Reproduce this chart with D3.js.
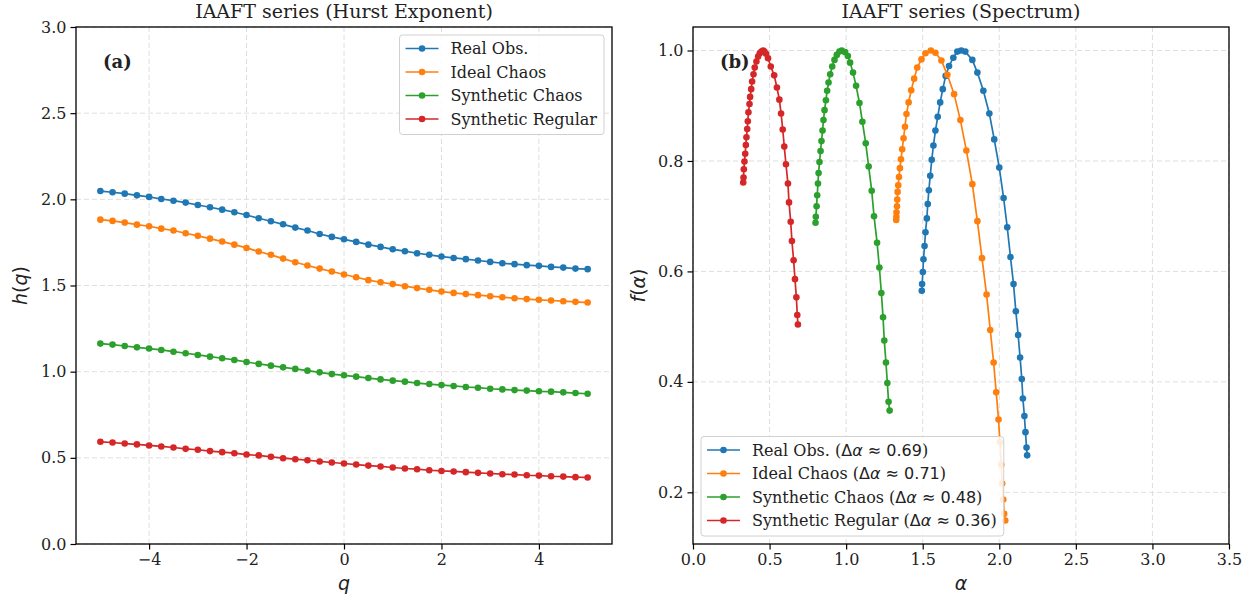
<!DOCTYPE html>
<html>
<head>
<meta charset="utf-8">
<script src="https://cdn.jsdelivr.net/npm/d3@7"></script>
<style>
  body { margin: 0; background: #fff; }
  svg text { font-family: "DejaVu Serif", serif; fill: #222; }
</style>
</head>
<body>
<svg id="chart" width="1253" height="597"></svg>
<script>
/* ---------- data ---------- */
const SERIES   = ["Real Obs.", "Ideal Chaos", "Synthetic Chaos", "Synthetic Regular"];
const COLORS   = ["#1f77b4", "#ff7f0e", "#2ca02c", "#d62728"];
const DELTA_A  = ["0.69", "0.71", "0.48", "0.36"];

const qVals = [-5, -4.75, -4.5, -4.25, -4, -3.75, -3.5, -3.25, -3, -2.75, -2.5, -2.25, -2, -1.75, -1.5, -1.25, -1, -0.75, -0.5, -0.25,
  0, 0.25, 0.5, 0.75, 1, 1.25, 1.5, 1.75, 2, 2.25, 2.5, 2.75, 3, 3.25, 3.5, 3.75, 4, 4.25, 4.5, 4.75, 5];

// panel (a): h(q)
const hReal = [2.048, 2.041, 2.033, 2.023, 2.014, 2.002, 1.992, 1.981, 1.967, 1.954, 1.940, 1.925, 1.909, 1.890, 1.873, 1.855, 1.836, 1.819, 1.799, 1.782,
  1.768, 1.753, 1.737, 1.724, 1.710, 1.699, 1.687, 1.678, 1.668, 1.660, 1.653, 1.645, 1.637, 1.629, 1.624, 1.618, 1.614, 1.608, 1.604, 1.598, 1.595];
const hIdeal = [1.882, 1.875, 1.865, 1.853, 1.844, 1.830, 1.819, 1.803, 1.788, 1.772, 1.755, 1.737, 1.718, 1.697, 1.678, 1.656, 1.635, 1.616, 1.598, 1.581,
  1.564, 1.548, 1.531, 1.519, 1.508, 1.496, 1.485, 1.475, 1.465, 1.457, 1.450, 1.444, 1.438, 1.432, 1.426, 1.421, 1.417, 1.413, 1.409, 1.405, 1.401];
const hSynChaos = [1.163, 1.157, 1.149, 1.141, 1.134, 1.126, 1.116, 1.107, 1.097, 1.087, 1.078, 1.068, 1.056, 1.045, 1.035, 1.025, 1.016, 1.006, 0.996, 0.986,
  0.979, 0.971, 0.963, 0.955, 0.948, 0.942, 0.934, 0.928, 0.922, 0.917, 0.911, 0.907, 0.901, 0.897, 0.893, 0.890, 0.886, 0.884, 0.880, 0.876, 0.872];
const hSynReg = [0.593, 0.589, 0.583, 0.578, 0.572, 0.566, 0.560, 0.552, 0.547, 0.539, 0.533, 0.527, 0.519, 0.514, 0.506, 0.498, 0.492, 0.486, 0.479, 0.473,
  0.467, 0.461, 0.455, 0.450, 0.444, 0.438, 0.434, 0.428, 0.424, 0.421, 0.417, 0.413, 0.409, 0.405, 0.403, 0.399, 0.397, 0.393, 0.391, 0.388, 0.386];

// panel (b): alpha and f(alpha), same q order (-5 .. 5)
const aReal = [2.182, 2.178, 2.171, 2.164, 2.154, 2.147, 2.136, 2.123, 2.108, 2.093, 2.073, 2.052, 2.028, 2.000, 1.967, 1.935, 1.896, 1.857, 1.824, 1.778,
  1.752, 1.726, 1.700, 1.672, 1.650, 1.631, 1.614, 1.598, 1.583, 1.570, 1.559, 1.549, 1.540, 1.533, 1.527, 1.518, 1.512, 1.505, 1.501, 1.496, 1.494];
const fReal = [0.267, 0.281, 0.309, 0.338, 0.370, 0.405, 0.444, 0.485, 0.528, 0.577, 0.626, 0.680, 0.733, 0.788, 0.839, 0.886, 0.927, 0.960, 0.983, 0.998,
  1.000, 0.998, 0.987, 0.972, 0.954, 0.930, 0.906, 0.880, 0.855, 0.828, 0.802, 0.773, 0.747, 0.722, 0.696, 0.671, 0.646, 0.622, 0.599, 0.577, 0.565];
const aIdeal = [2.039, 2.032, 2.026, 2.019, 2.013, 2.004, 1.995, 1.980, 1.963, 1.941, 1.917, 1.887, 1.857, 1.824, 1.785, 1.746, 1.705, 1.661, 1.622, 1.583,
  1.553, 1.518, 1.492, 1.464, 1.444, 1.425, 1.408, 1.394, 1.384, 1.375, 1.366, 1.358, 1.351, 1.345, 1.340, 1.336, 1.334, 1.332, 1.329, 1.328, 1.327];
const fIdeal = [0.149, 0.161, 0.187, 0.216, 0.250, 0.291, 0.332, 0.381, 0.435, 0.494, 0.558, 0.624, 0.691, 0.758, 0.819, 0.874, 0.921, 0.956, 0.982, 0.996,
  1.000, 0.995, 0.984, 0.969, 0.949, 0.928, 0.906, 0.885, 0.862, 0.841, 0.821, 0.803, 0.787, 0.771, 0.756, 0.744, 0.730, 0.718, 0.707, 0.699, 0.693];
const aSynChaos = [1.284, 1.277, 1.269, 1.260, 1.249, 1.241, 1.230, 1.217, 1.202, 1.182, 1.167, 1.147, 1.128, 1.106, 1.087, 1.065, 1.045, 1.026, 1.011, 0.993,
  0.971, 0.956, 0.939, 0.924, 0.909, 0.896, 0.885, 0.876, 0.868, 0.859, 0.852, 0.846, 0.839, 0.833, 0.826, 0.820, 0.816, 0.811, 0.807, 0.802, 0.800];
const fSynChaos = [0.348, 0.364, 0.398, 0.435, 0.475, 0.517, 0.561, 0.607, 0.652, 0.700, 0.746, 0.790, 0.832, 0.871, 0.905, 0.936, 0.960, 0.978, 0.990, 0.997,
  1.000, 0.998, 0.992, 0.983, 0.971, 0.957, 0.942, 0.927, 0.910, 0.892, 0.874, 0.855, 0.836, 0.818, 0.798, 0.778, 0.759, 0.738, 0.718, 0.699, 0.688];
const aSynReg = [0.685, 0.681, 0.675, 0.666, 0.657, 0.646, 0.638, 0.627, 0.620, 0.607, 0.596, 0.586, 0.575, 0.564, 0.548, 0.530, 0.508, 0.490, 0.477, 0.466,
  0.458, 0.447, 0.436, 0.425, 0.414, 0.403, 0.395, 0.386, 0.380, 0.373, 0.369, 0.362, 0.358, 0.354, 0.349, 0.345, 0.341, 0.336, 0.332, 0.330, 0.328];
const fSynReg = [0.504, 0.521, 0.553, 0.586, 0.620, 0.655, 0.690, 0.725, 0.759, 0.794, 0.826, 0.857, 0.886, 0.911, 0.933, 0.955, 0.971, 0.986, 0.994, 0.998,
  1.000, 0.998, 0.995, 0.989, 0.980, 0.969, 0.957, 0.944, 0.930, 0.916, 0.903, 0.888, 0.872, 0.858, 0.843, 0.829, 0.813, 0.799, 0.785, 0.770, 0.761];

const hTicksY  = [0, 0.5, 1, 1.5, 2, 2.5, 3];
const hTicksX  = [-4, -2, 0, 2, 4];
const fTicksY  = [0.2, 0.4, 0.6, 0.8, 1.0];
const aTicksX  = [0, 0.5, 1, 1.5, 2, 2.5, 3, 3.5];

/* ---------- helpers ---------- */
const svg = d3.select("#chart");
const FS = 16;          // tick / legend font size
const SANS = "DejaVu Sans";

function pad5(ext){ const r = ext[1] - ext[0]; return [ext[0] - 0.05*r, ext[1] + 0.05*r]; }
const minus = s => s.replace("-", "\u2212");

// math-ish text: parts = [[text, italic], ...]
function mathText(g, parts, size){
  parts.forEach(([t, it]) => {
    g.append("tspan").attr("font-family", SANS).attr("font-style", it ? "italic" : "normal")
      .attr("font-size", size).text(t);
  });
}

function drawPanel({ box, x, y, xTicks, yTicks, xFmt, yFmt, title, xLab, yLab, yLabX, tag }){
  const g = svg.append("g");

  // grid
  g.append("g").selectAll("line").data(xTicks).join("line")
    .attr("x1", d => x(d)).attr("x2", d => x(d)).attr("y1", box.t).attr("y2", box.b)
    .attr("stroke", "#dedede").attr("stroke-width", 1).attr("stroke-dasharray", "5,3");
  g.append("g").selectAll("line").data(yTicks).join("line")
    .attr("y1", d => y(d)).attr("y2", d => y(d)).attr("x1", box.l).attr("x2", box.r)
    .attr("stroke", "#dedede").attr("stroke-width", 1).attr("stroke-dasharray", "5,3");

  // axes
  const ax = g.append("g").attr("transform", `translate(0,${box.b})`)
    .call(d3.axisBottom(x).tickValues(xTicks).tickFormat(xFmt).tickSize(5.5).tickPadding(4));
  const ay = g.append("g").attr("transform", `translate(${box.l},0)`)
    .call(d3.axisLeft(y).tickValues(yTicks).tickFormat(yFmt).tickSize(5.5).tickPadding(4));
  [ax, ay].forEach(a => {
    a.select(".domain").remove();
    a.selectAll("line").attr("stroke", "#000").attr("stroke-width", 1.2);
    a.selectAll("text").attr("font-family", "DejaVu Serif").attr("font-size", FS).attr("fill", "#222");
  });

  // title
  g.append("text").attr("x", (box.l + box.r)/2).attr("y", 18).attr("text-anchor", "middle")
    .attr("font-size", 19).text(title);

  // axis labels
  const xl = g.append("text").attr("x", (box.l + box.r)/2).attr("y", 590).attr("text-anchor", "middle");
  mathText(xl, xLab, 19);
  const yl = g.append("text").attr("transform", `translate(${yLabX},${(box.t + box.b)/2}) rotate(-90)`)
    .attr("text-anchor", "middle");
  mathText(yl, yLab, 19);

  // panel tag
  g.append("text").attr("x", tag.x).attr("y", tag.y).attr("font-weight", "bold").attr("font-size", 18).text(tag.t);

  return g;
}

function drawSeries(g, xs, ys, x, y, color){
  const pts = xs.map((v, i) => [v, ys[i]]);
  g.append("path").datum(pts)
    .attr("d", d3.line().x(d => x(d[0])).y(d => y(d[1])))
    .attr("fill", "none").attr("stroke", color).attr("stroke-width", 1.7);
  g.append("g").selectAll("circle").data(pts).join("circle")
    .attr("cx", d => x(d[0])).attr("cy", d => y(d[1])).attr("r", 3.3).attr("fill", color);
}

function drawSpines(box){
  svg.append("rect").attr("x", box.l).attr("y", box.t).attr("width", box.r - box.l).attr("height", box.b - box.t)
    .attr("fill", "none").attr("stroke", "#000").attr("stroke-width", 1.3);
}

// legend box: anchored by its top-right corner ("right") or bottom-left corner ("bottom")
function drawLegend({ anchor, ax, ay, rows }){
  const g = svg.append("g");
  const padTop = 13.5, rowH = 23.5, padBot = 15.5, lineLen = 33;
  const frame = g.append("rect").attr("rx", 3).attr("fill", "#fff").attr("fill-opacity", 0.85)
    .attr("stroke", "#d0d0d0").attr("stroke-width", 1);
  const texts = [];
  rows.forEach((r, i) => {
    const cy = padTop + i*rowH;
    g.append("line").attr("x1", 6).attr("x2", 6 + lineLen).attr("y1", cy).attr("y2", cy)
      .attr("stroke", r.color).attr("stroke-width", 1.7);
    g.append("circle").attr("cx", 6 + lineLen/2).attr("cy", cy).attr("r", 3.3).attr("fill", r.color);
    const t = g.append("text").attr("x", 6 + lineLen + 12).attr("y", cy + 5.5).attr("font-size", FS);
    r.build(t);
    texts.push(t);
  });
  const maxW = d3.max(texts, t => t.node().getComputedTextLength());
  const w = 6 + lineLen + 12 + maxW + 7;
  const h = padTop + (rows.length - 1)*rowH + padBot;
  frame.attr("width", w).attr("height", h);
  if(anchor === "right") g.attr("transform", `translate(${ax - w},${ay})`);
  else g.attr("transform", `translate(${ax},${ay - h})`);
}

/* ---------- panel (a) ---------- */
const boxA = { l: 76, r: 612, t: 27, b: 544 };
const xA = d3.scaleLinear().domain(pad5(d3.extent(qVals))).range([boxA.l, boxA.r]);
const yA = d3.scaleLinear().domain([0, 3]).range([boxA.b, boxA.t]);
const gA = drawPanel({
  box: boxA, x: xA, y: yA, xTicks: hTicksX, yTicks: hTicksY,
  xFmt: d => minus(d3.format("d")(d)), yFmt: d3.format(".1f"),
  title: "IAAFT series (Hurst Exponent)",
  xLab: [["q", true]], yLab: [["h", true], ["(", false], ["q", true], [")", false]], yLabX: 27,
  tag: { x: 103, y: 68, t: "(a)" }
});
[hReal, hIdeal, hSynChaos, hSynReg].forEach((h, i) => drawSeries(gA, qVals, h, xA, yA, COLORS[i]));
drawSpines(boxA);
drawLegend({
  anchor: "right", ax: 604, ay: 35,
  rows: SERIES.map((s, i) => ({ color: COLORS[i], build: t => t.text(s) }))
});

/* ---------- panel (b) ---------- */
const boxB = { l: 693, r: 1229, t: 27, b: 544 };
const allF = [].concat(fReal, fIdeal, fSynChaos, fSynReg);
const xB = d3.scaleLinear().domain([0, 3.5]).range([boxB.l, boxB.r]);
const yB = d3.scaleLinear().domain(pad5(d3.extent(allF))).range([boxB.b, boxB.t]);
const gB = drawPanel({
  box: boxB, x: xB, y: yB, xTicks: aTicksX, yTicks: fTicksY,
  xFmt: d3.format(".1f"), yFmt: d3.format(".1f"),
  title: "IAAFT series (Spectrum)",
  xLab: [["\u03b1", true]], yLab: [["f", true], ["(", false], ["\u03b1", true], [")", false]], yLabX: 645,
  tag: { x: 720, y: 68, t: "(b)" }
});
[[aReal, fReal], [aIdeal, fIdeal], [aSynChaos, fSynChaos], [aSynReg, fSynReg]]
  .forEach(([a, f], i) => drawSeries(gB, a, f, xB, yB, COLORS[i]));
drawSpines(boxB);
drawLegend({
  anchor: "bottom", ax: 701, ay: 536,
  rows: SERIES.map((s, i) => ({
    color: COLORS[i],
    build: t => {
      t.append("tspan").text(s + " (");
      t.append("tspan").attr("font-family", SANS).text("\u0394");
      t.append("tspan").attr("font-family", SANS).attr("font-style", "italic").text("\u03b1");
      t.append("tspan").attr("font-family", SANS).text(" \u2248 " + DELTA_A[i]);
      t.append("tspan").text(")");
    }
  }))
});
</script>
</body>
</html>
